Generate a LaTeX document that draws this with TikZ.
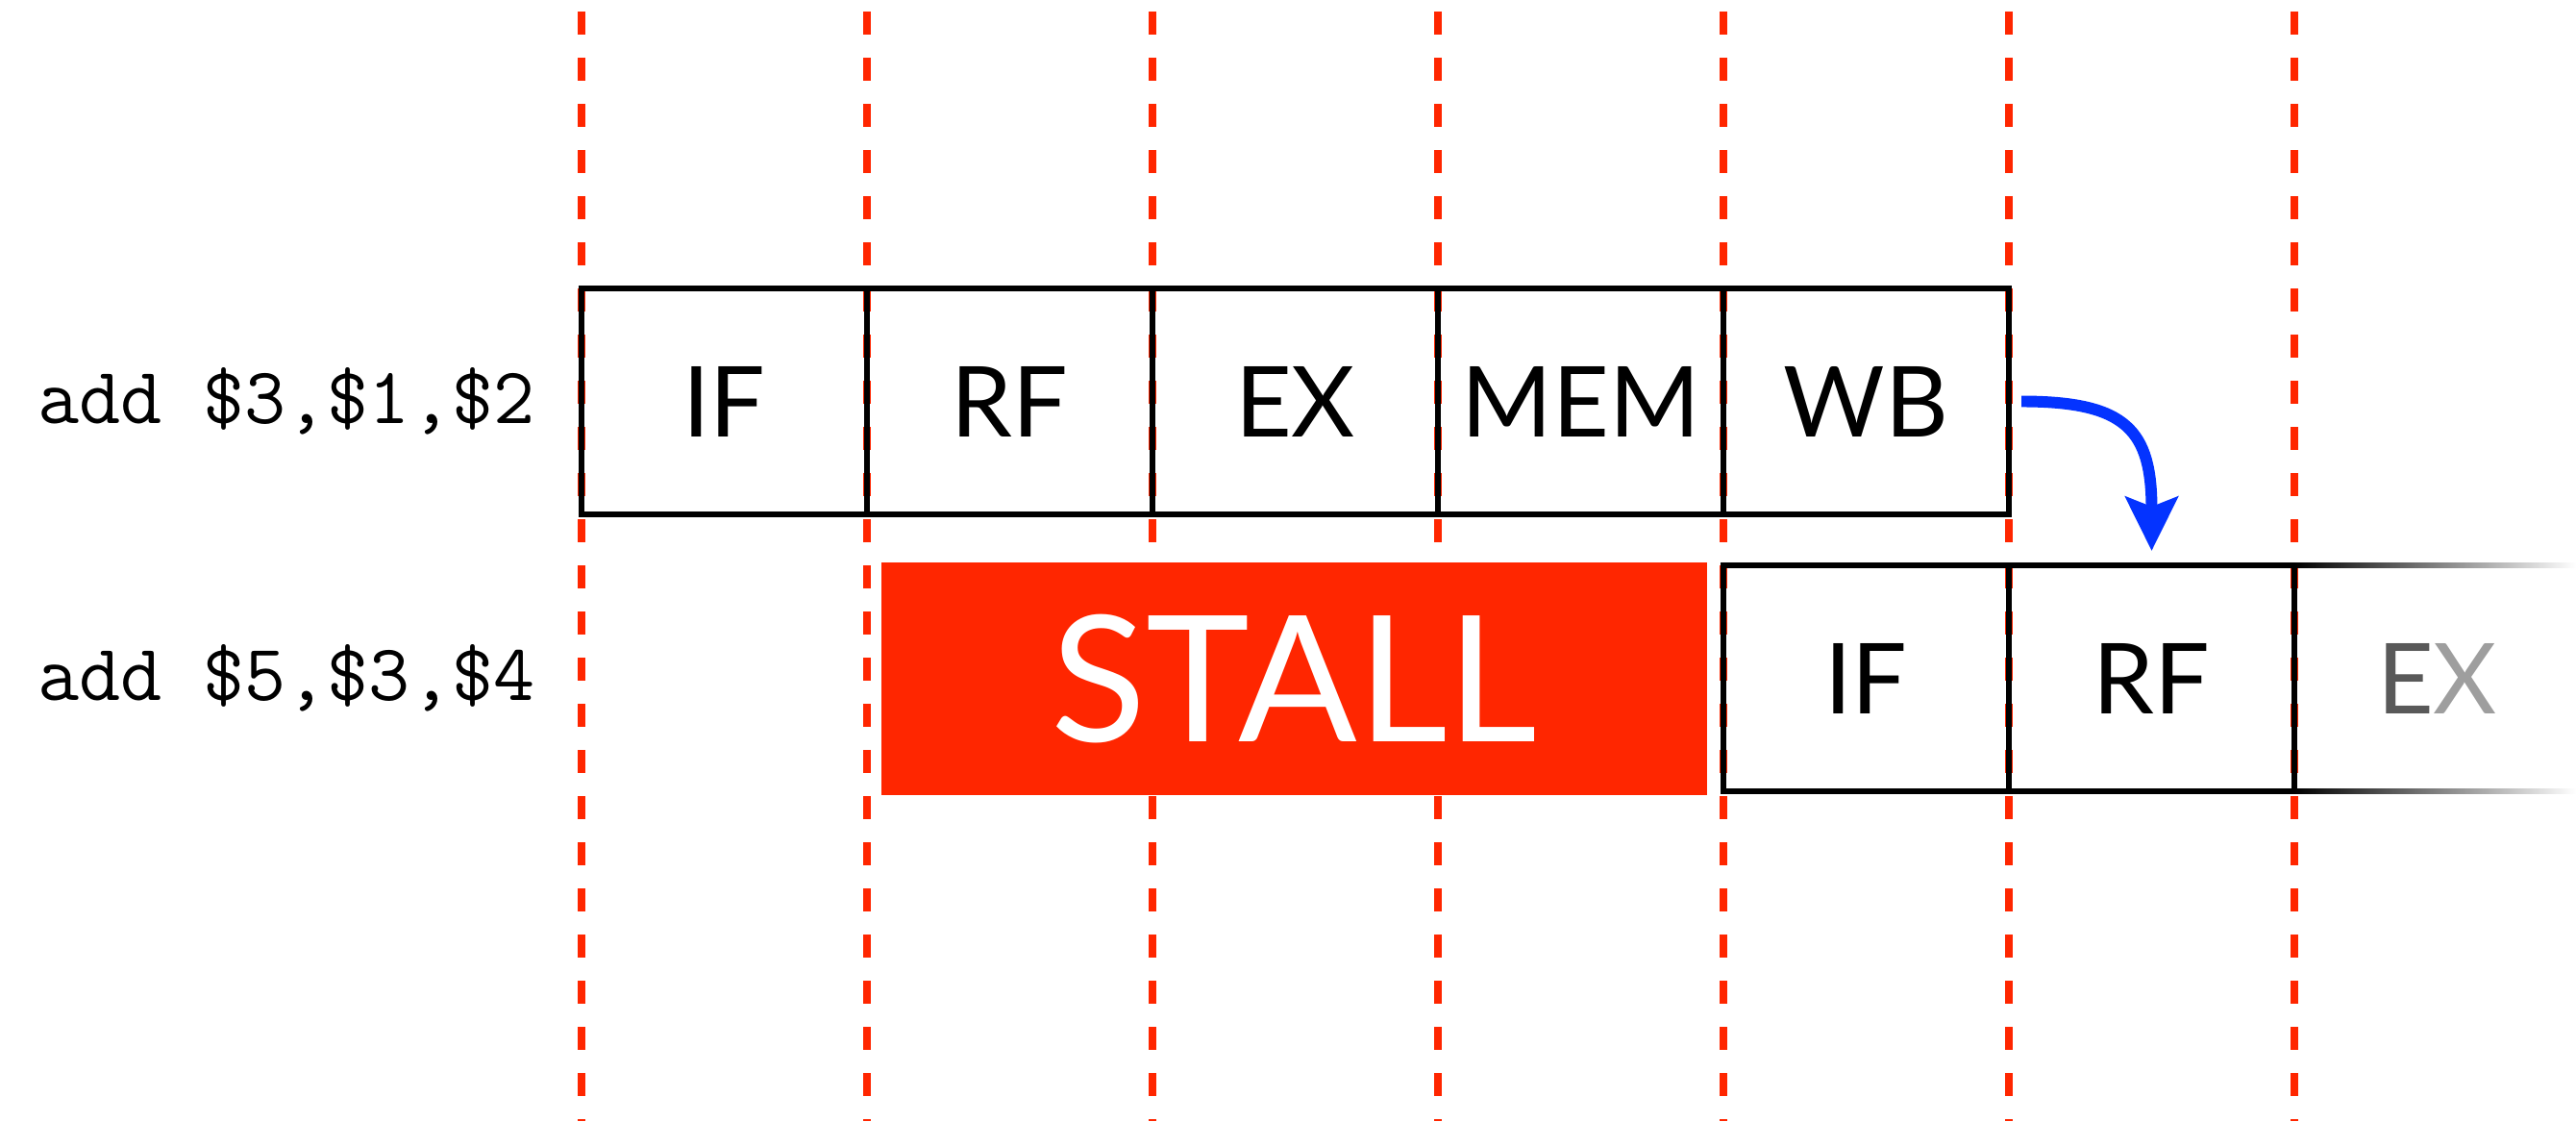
\documentclass[tikz,border=0pt]{standalone}
\usepackage{fontspec}
\setmainfont{Lato}
\usetikzlibrary{arrows.meta,positioning,calc}
\definecolor{pipered}{HTML}{FF2600}
\definecolor{fwdblue}{HTML}{0433FF}

\begin{document}
\begin{tikzpicture}[node distance=0pt,
    cell/.style={draw=black,line width=1.7pt,outer sep=0pt,inner sep=0pt,
      minimum width=2.97cm,minimum height=2.35cm,font=\fontsize{29}{34}\selectfont},
    stall/.style={fill=pipered,text=white,inner sep=0pt,minimum width=8.59cm,
      minimum height=2.42cm,font=\fontsize{52}{60}\selectfont},
    instr/.style={inner sep=0pt,font=\ttfamily\fontsize{23.8}{28}\selectfont},
    vline/.style={pipered,line width=2.3pt,dash pattern=on 0.24cm off 0.24cm},
    arr/.style={-{Stealth[length=5.6mm,width=5.4mm,inset=1mm]},line width=3.4pt,fwdblue}]
  \useasboundingbox (0,0) rectangle (26.8,11.66);
  % clock boundaries
  \foreach \i in {0,...,6}
    \draw[vline] ({6.05+2.97*\i},11.54) -- ++(0,-11.54);
  % first instruction
  \node[cell] (if1) at (7.535,7.485) {IF};
  \node[cell,right=of if1] (rf1) {RF};
  \node[cell,right=of rf1] (ex1) {EX};
  \node[cell,right=of ex1] (mem1) {MEM};
  \node[cell,right=of mem1] (wb1) {WB};
  \node[instr,left=4.8mm of if1] (i1) {add \$3,\$1,\$2};
  % second instruction
  \node[stall] (stall) at (13.465,4.6) {STALL};
  \node[cell] (if2) at (19.415,4.605) {IF};
  \node[cell,right=of if2] (rf2) {RF};
  \node[cell,draw=none,right=of rf2] (ex2) {\textcolor{black!65}{E}\textcolor{black!38}{X}};
  \shade[left color=black,right color=white] ($(ex2.north west)+(0,-0.85pt)$) rectangle ($(ex2.north west)+(2.93,0.85pt)$);
  \shade[left color=black,right color=white] ($(ex2.south west)+(0,-0.85pt)$) rectangle ($(ex2.south west)+(2.93,0.85pt)$);
  \node[instr,anchor=east] (i2) at (i1.east |- if2.center) {add \$5,\$3,\$4};
  % forwarding after write back
  \draw[arr] ([xshift=1.3mm]wb1.east) .. controls +(1.1,0) and +(0,1.25) .. ([yshift=1.5mm]rf2.north);
\end{tikzpicture}
\end{document}
